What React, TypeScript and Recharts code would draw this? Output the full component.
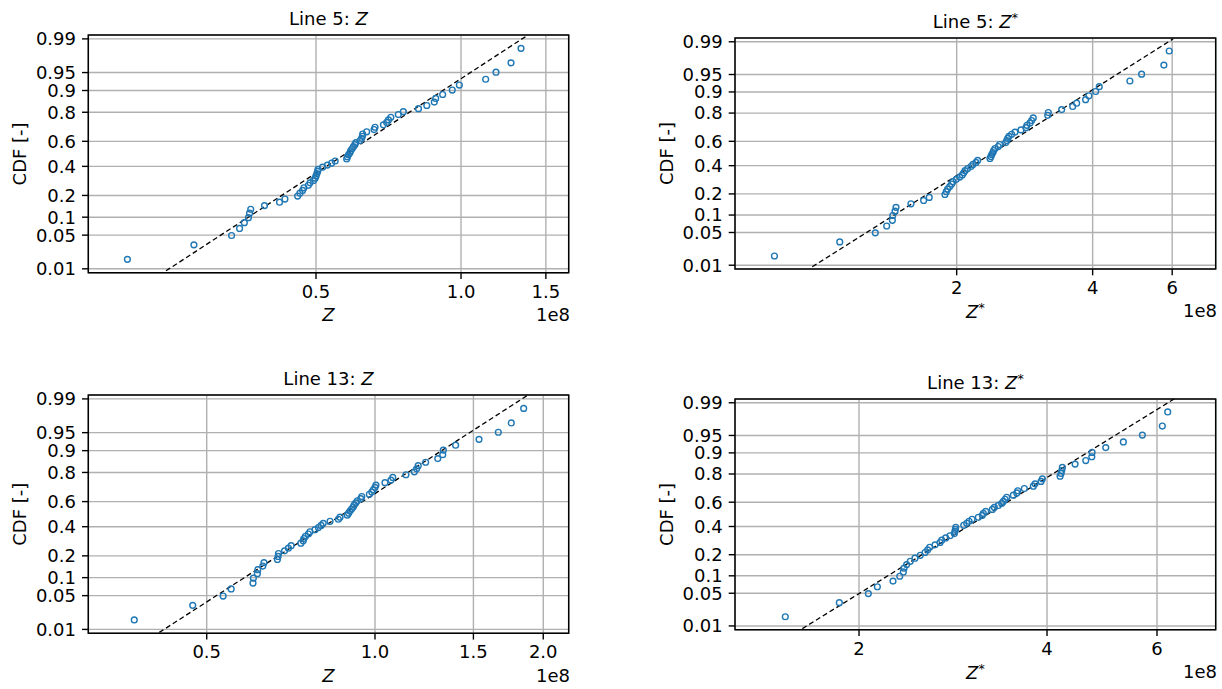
import { ScatterChart, Scatter, XAxis, YAxis, CartesianGrid, ReferenceArea } from 'recharts';

// plotting positions (CDF) shared by every panel, rank 1..60
const cdfPos = [
  0.0164, 0.0328, 0.0492, 0.0656, 0.082, 0.0984, 0.1148, 0.1311, 0.1475, 0.1639,
  0.1803, 0.1967, 0.2131, 0.2295, 0.2459, 0.2623, 0.2787, 0.2951, 0.3115, 0.3279,
  0.3443, 0.3607, 0.377, 0.3934, 0.4098, 0.4262, 0.4426, 0.459, 0.4754, 0.4918,
  0.5082, 0.5246, 0.541, 0.5574, 0.5738, 0.5902, 0.6066, 0.623, 0.6393, 0.6557,
  0.6721, 0.6885, 0.7049, 0.7213, 0.7377, 0.7541, 0.7705, 0.7869, 0.8033, 0.8197,
  0.8361, 0.8525, 0.8689, 0.8852, 0.9016, 0.918, 0.9344, 0.9508, 0.9672, 0.9836,
];

// sorted sample values, in units of 1e8
const line5Z = [
  0.203, 0.279, 0.334, 0.347, 0.355, 0.362, 0.364, 0.366, 0.391, 0.42,
  0.431, 0.458, 0.463, 0.469, 0.472, 0.482, 0.486, 0.494, 0.498, 0.5,
  0.502, 0.504, 0.505, 0.516, 0.528, 0.539, 0.548, 0.579, 0.581, 0.584,
  0.588, 0.59, 0.594, 0.598, 0.602, 0.605, 0.617, 0.622, 0.624, 0.625,
  0.637, 0.66, 0.663, 0.69, 0.701, 0.707, 0.715, 0.741, 0.759, 0.816,
  0.849, 0.88, 0.886, 0.916, 0.959, 0.992, 1.125, 1.182, 1.27, 1.332,
];
const line5Zs = [
  0.79, 1.102, 1.321, 1.4, 1.441, 1.444, 1.461, 1.468, 1.584, 1.69,
  1.739, 1.884, 1.897, 1.91, 1.93, 1.949, 1.963, 1.996, 2.031, 2.058,
  2.073, 2.087, 2.115, 2.151, 2.173, 2.207, 2.226, 2.37, 2.382, 2.391,
  2.406, 2.415, 2.431, 2.472, 2.49, 2.568, 2.581, 2.594, 2.611, 2.647,
  2.692, 2.776, 2.847, 2.862, 2.906, 2.931, 2.955, 3.181, 3.191, 3.416,
  3.613, 3.687, 3.859, 3.925, 4.062, 4.137, 4.836, 5.134, 5.751, 5.91,
];
const line13Z = [
  0.371, 0.472, 0.535, 0.553, 0.605, 0.606, 0.616, 0.617, 0.63, 0.633,
  0.669, 0.671, 0.672, 0.689, 0.7, 0.708, 0.737, 0.744, 0.746, 0.751,
  0.76, 0.765, 0.781, 0.792, 0.801, 0.808, 0.831, 0.86, 0.866, 0.892,
  0.897, 0.902, 0.908, 0.914, 0.918, 0.924, 0.93, 0.943, 0.947, 0.977,
  0.987, 0.993, 1.0, 1.004, 1.042, 1.068, 1.076, 1.136, 1.176, 1.187,
  1.195, 1.232, 1.295, 1.322, 1.325, 1.394, 1.535, 1.662, 1.753, 1.845,
];
const line13Zs = [
  1.524, 1.86, 2.07, 2.14, 2.267, 2.324, 2.355, 2.361, 2.384, 2.416,
  2.458, 2.507, 2.551, 2.576, 2.595, 2.647, 2.696, 2.713, 2.753, 2.797,
  2.842, 2.849, 2.853, 2.857, 2.942, 2.975, 3.001, 3.034, 3.105, 3.151,
  3.163, 3.191, 3.27, 3.294, 3.343, 3.385, 3.405, 3.427, 3.448, 3.533,
  3.578, 3.591, 3.679, 3.803, 3.827, 3.913, 3.932, 4.197, 4.213, 4.223,
  4.233, 4.436, 4.614, 4.718, 4.723, 4.967, 5.3, 5.685, 6.119, 6.242,
];

// fitted lognormal lines, [x (1e8), cdf] at both ends
const fit5Z = [[0.2441, 0.00897], [1.3686, 0.99151]];
const fit5Zs = [[0.958, 0.00916], [6.032, 0.99153]];
const fit13Z = [[0.4113, 0.00849], [1.868, 0.99151]];
const fit13Zs = [[1.623, 0.00861], [6.396, 0.992]];

const yTickLabels = ['0.01', '0.05', '0.1', '0.2', '0.4', '0.6', '0.8', '0.9', '0.95', '0.99'];
const ticksZ5 = [0.5, 1.0, 1.5];
const ticksZs = [2, 4, 6];
const ticksZ13 = [0.5, 1.0, 1.5, 2.0];

// inverse standard normal CDF (Acklam)
function probit(p: number): number {
  const a = [-39.69683028665376, 220.9460984245205, -275.9285104469687, 138.357751867269, -30.66479806614716, 2.506628277459239];
  const b = [-54.47609879822406, 161.5858368580409, -155.6989798598866, 66.80131188771972, -13.28068155288572];
  const c = [-0.007784894002430293, -0.3223964580411365, -2.400758277161838, -2.549732539343734, 4.374664141464968, 2.938163982698783];
  const d = [0.007784695709041462, 0.3224671290700398, 2.445134137142996, 3.754408661907416];
  const tail = (q: number) =>
    (((((c[0] * q + c[1]) * q + c[2]) * q + c[3]) * q + c[4]) * q + c[5]) /
    ((((d[0] * q + d[1]) * q + d[2]) * q + d[3]) * q + 1);
  if (p < 0.02425) return tail(Math.sqrt(-2 * Math.log(p)));
  if (p > 1 - 0.02425) return -tail(Math.sqrt(-2 * Math.log(1 - p)));
  const q = p - 0.5;
  const r = q * q;
  return ((((((a[0] * r + a[1]) * r + a[2]) * r + a[3]) * r + a[4]) * r + a[5]) * q) /
    (((((b[0] * r + b[1]) * r + b[2]) * r + b[3]) * r + b[4]) * r + 1);
}

const Y_LIM = 2.405;
const yTicks = yTickLabels.map((l) => probit(Number(l)));
const fmtY = (v: number) => {
  let best = 0;
  yTicks.forEach((t, i) => { if (Math.abs(t - v) < Math.abs(yTicks[best] - v)) best = i; });
  return yTickLabels[best];
};

const FONT = 'DejaVu Sans';
const FS = 18;
const tickStyle = { fill: '#000', fontSize: FS, fontFamily: FONT };
const tickLine = { stroke: '#000', strokeWidth: 1.4 };

const Circle = (props: any) => (
  <circle cx={props.cx} cy={props.cy} r={2.9} fill="none" stroke="#1f77b4" strokeWidth={1.4} />
);

interface PanelProps {
  left: number; top: number; width: number; height: number;
  margin: { top: number; right: number; bottom: number; left: number };
  yWidth: number;
  xs: number[];
  fit: number[][];
  xDomain: [number, number];
  xTicks: number[];
  xFmt: (v: number) => string;
}

function ProbPanel(p: PanelProps) {
  const points = p.xs.map((x, i) => ({ x, y: probit(cdfPos[i]) }));
  const fitPts = p.fit.map(([x, c]) => ({ x, y: probit(c) }));
  return (
    <div style={{ position: 'absolute', left: p.left, top: p.top }}>
      <ScatterChart width={p.width} height={p.height} margin={p.margin}>
        <CartesianGrid stroke="#b0b0b0" strokeWidth={1.4} />
        <XAxis
          dataKey="x" type="number" scale="log" domain={p.xDomain} allowDataOverflow
          ticks={p.xTicks} interval={0} tickFormatter={p.xFmt}
          tick={tickStyle} tickLine={tickLine} tickSize={6.3} tickMargin={6}
          axisLine={false} height={30}
        />
        <YAxis
          dataKey="y" type="number" domain={[-Y_LIM, Y_LIM]} allowDataOverflow
          ticks={yTicks} interval={0} tickFormatter={fmtY}
          tick={tickStyle} tickLine={tickLine} tickSize={6.3} tickMargin={6}
          axisLine={false} width={p.yWidth}
        />
        <ReferenceArea
          x1={p.xDomain[0]} x2={p.xDomain[1]} y1={-Y_LIM} y2={Y_LIM}
          fill="none" stroke="#000" strokeWidth={1.5} ifOverflow="visible"
        />
        <Scatter
          data={fitPts} isAnimationActive={false} shape={() => <g />}
          line={{ stroke: '#000', strokeWidth: 1.3, strokeDasharray: '5 3' }}
        />
        <Scatter data={points} isAnimationActive={false} shape={Circle} />
      </ScatterChart>
    </div>
  );
}

const fmt1 = (v: number) => v.toFixed(1);
const fmt0 = (v: number) => String(v);

function Title({ x, y, line, star }: { x: number; y: number; line: string; star: boolean }) {
  return (
    <text x={x} y={y} textAnchor="middle" fontFamily={FONT} fontSize={FS}>
      {`Line ${line}: `}
      <tspan fontStyle="italic">Z</tspan>
      {star && <tspan fontSize={12.6} dy={-6}>*</tspan>}
    </text>
  );
}

function XLabel({ x, y, star }: { x: number; y: number; star: boolean }) {
  return (
    <text x={x} y={y} textAnchor="middle" fontFamily={FONT} fontSize={FS}>
      <tspan fontStyle="italic">Z</tspan>
      {star && <tspan fontSize={12.6} dy={-6}>*</tspan>}
    </text>
  );
}

function Texts() {
  const t = { fontFamily: FONT, fontSize: FS };
  return (
    <svg width={1222} height={689} style={{ position: 'absolute', left: 0, top: 0, pointerEvents: 'none' }}>
      <Title x={328.5} y={24.5} line="5" star={false} />
      <Title x={975.4} y={27.5} line="5" star />
      <Title x={328.5} y={384.5} line="13" star={false} />
      <Title x={975.4} y={388.5} line="13" star />
      <XLabel x={328.5} y={320.5} star={false} />
      <XLabel x={975.4} y={317.5} star />
      <XLabel x={328.5} y={681.5} star={false} />
      <XLabel x={975.4} y={678.5} star />
      <text x={570} y={320.5} textAnchor="end" {...t}>1e8</text>
      <text x={1217} y={316.5} textAnchor="end" {...t}>1e8</text>
      <text x={570} y={681.5} textAnchor="end" {...t}>1e8</text>
      <text x={1217} y={678} textAnchor="end" {...t}>1e8</text>
      <text transform="translate(26,153.9) rotate(-90)" textAnchor="middle" {...t}>CDF [-]</text>
      <text transform="translate(672.7,153.5) rotate(-90)" textAnchor="middle" {...t}>CDF [-]</text>
      <text transform="translate(26,514.2) rotate(-90)" textAnchor="middle" {...t}>CDF [-]</text>
      <text transform="translate(672.7,514.4) rotate(-90)" textAnchor="middle" {...t}>CDF [-]</text>
    </svg>
  );
}

export default function App() {
  return (
    <div style={{ position: 'absolute', left: 0, top: 0, width: 1222, height: 689, background: '#fff' }}>
      <ProbPanel
        left={0} top={0} width={611} height={340} yWidth={88.3}
        margin={{ top: 35, right: 42.3, bottom: 37.3, left: 0 }}
        xs={line5Z} fit={fit5Z} xDomain={[0.1684, 1.673]} xTicks={ticksZ5} xFmt={fmt1}
      />
      <ProbPanel
        left={611} top={0} width={611} height={340} yWidth={124}
        margin={{ top: 38, right: 6.3, bottom: 41, left: 0 }}
        xs={line5Zs} fit={fit5Zs} xDomain={[0.6461, 7.49]} xTicks={ticksZs} xFmt={fmt0}
      />
      <ProbPanel
        left={0} top={340} width={611} height={349} yWidth={88.3}
        margin={{ top: 55, right: 42.3, bottom: 25.7, left: 0 }}
        xs={line13Z} fit={fit13Z} xDomain={[0.307, 2.221]} xTicks={ticksZ13} xFmt={fmt1}
      />
      <ProbPanel
        left={611} top={340} width={611} height={349} yWidth={124}
        margin={{ top: 59, right: 6.3, bottom: 29.3, left: 0 }}
        xs={line13Zs} fit={fit13Zs} xDomain={[1.266, 7.45]} xTicks={ticksZs} xFmt={fmt0}
      />
      <Texts />
    </div>
  );
}
